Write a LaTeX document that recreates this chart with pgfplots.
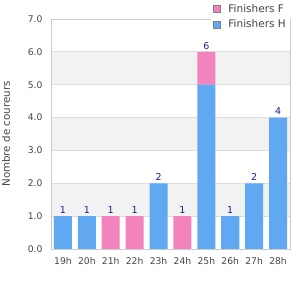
\documentclass[border=0pt]{standalone}
\usepackage{pgfplots}
\pgfplotsset{compat=1.18}
\usepackage{pgfplotstable}
\usepackage{fontspec}
\setmainfont{DejaVu Sans}
\definecolor{barH}{HTML}{60A9F2}
\definecolor{barF}{HTML}{F283BC}
\definecolor{lab}{HTML}{1E1E8C}
\definecolor{tickc}{HTML}{444444}
\definecolor{band}{HTML}{F2F2F2}
\definecolor{gridc}{HTML}{DDDDDD}
\definecolor{axisc}{HTML}{CCCCCC}
\pgfplotstableread{
x H F T
0 1 0 1
1 1 0 1
2 0 1 1
3 0 1 1
4 2 0 2
5 0 1 1
6 5 1 6
7 1 0 1
8 2 0 2
9 4 0 4
}\data
\pgfplotsset{common/.style={at={(51pt,51pt)}, anchor=south west,
  scale only axis, width=239pt, height=230pt,
  xmin=-0.5, xmax=9.5, ymin=0, ymax=7}}
\begin{document}
\begin{tikzpicture}
\useasboundingbox (0,0) rectangle (300pt,300pt);
\begin{axis}[common, hide axis]
\fill[band] (axis cs:-0.5,1) rectangle (axis cs:9.5,2);
\fill[band] (axis cs:-0.5,3) rectangle (axis cs:9.5,4);
\fill[band] (axis cs:-0.5,5) rectangle (axis cs:9.5,6);
\end{axis}
\begin{axis}[common,
  ybar stacked, bar width=18pt,
  xtick={0,...,9},
  xticklabels={19h,20h,21h,22h,23h,24h,25h,26h,27h,28h},
  ytick={0,...,7},
  yticklabel style={/pgf/number format/fixed, /pgf/number format/fixed zerofill, /pgf/number format/precision=1, /pgf/number format/assume math mode=true, xshift=-5pt},
  xticklabel style={yshift=-5pt},
  ticklabel style={font=\fontsize{9.2}{10}\selectfont, text=tickc},
  major tick length=0pt,
  ymajorgrids, grid style={gridc, line width=0.8pt},
  axis line style={axisc, line width=0.8pt},
  ylabel={Nombre de coureurs},
  ylabel style={at={([xshift=-45pt]axis description cs:0,0.5)}, anchor=center, font=\fontsize{10.3}{11}\selectfont, text=tickc},
  legend style={at={(rel axis cs:1,1)}, anchor=north east, yshift=19pt, draw=none, fill=white, font=\fontsize{10.5}{12}\selectfont, text=tickc, row sep=2pt, inner sep=2pt},
  legend cell align=left,
  reverse legend,
  legend image code/.code={\draw[#1, draw=gray, line width=0.6pt] (0pt,-3.5pt) rectangle (7pt,3.5pt); \path (0pt,0pt) -- (13pt,0pt);},
]
\addplot[fill=barH, draw=none] table[x=x, y=H] {\data};
\addlegendentry{Finishers H}
\addplot[fill=barF, draw=none] table[x=x, y=F] {\data};
\addlegendentry{Finishers F}
\end{axis}
\begin{axis}[common, hide axis]
\addplot[draw=none, mark=none, point meta=explicit symbolic, nodes near coords, nodes near coords style={text=lab, font=\fontsize{9.5}{10}\selectfont, anchor=south, inner sep=2.5pt}] table[x=x, y=T, meta=T] {\data};
\end{axis}
\end{tikzpicture}
\end{document}
